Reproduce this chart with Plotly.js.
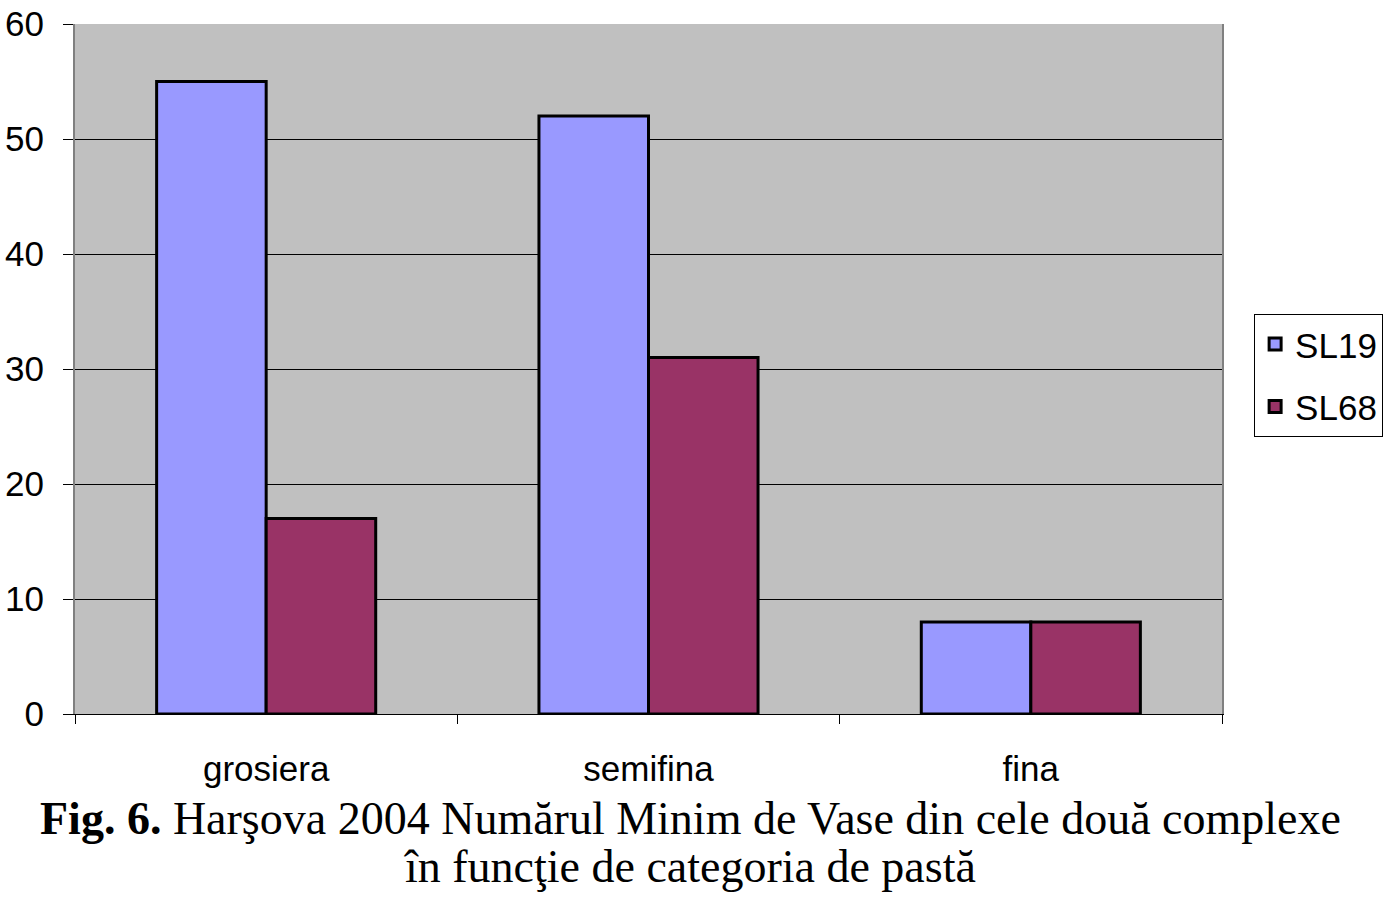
<!DOCTYPE html>
<html>
<head>
<meta charset="utf-8">
<script src="https://cdn.plot.ly/plotly-3.0.1.min.js"></script>
<style>html,body{margin:0;padding:0;background:#fff;}#chart{width:1398px;height:899px;}</style>
</head>
<body>
<div id="chart"></div>
<script>
const categories = ["grosiera", "semifina", "fina"];
const sl19 = [55, 52, 8];
const sl68 = [17, 31, 8];
const seriesNames = ["SL19", "SL68"];
const yTicks = [0, 10, 20, 30, 40, 50, 60];
const captionLine1 = "<b>Fig. 6.</b> Harşova 2004 Numărul Minim de Vase din cele două complexe";
const captionLine2 = "în funcţie de categoria de pastă";

const traces = [
  {type: "bar", name: seriesNames[0], x: categories, y: sl19, legendgroup: "a",
   marker: {color: "#9999FF", line: {color: "#000", width: 3}}},
  {type: "bar", name: seriesNames[1], x: categories, y: sl68, legendgroup: "b",
   marker: {color: "#993366", line: {color: "#000", width: 3}}}
];

const axisFont = {size: 35, family: "Liberation Sans, Arial, sans-serif", color: "#000"};
const captionFont = {family: "Liberation Serif, Times New Roman, serif", size: 46, color: "#000"};

const layout = {
  width: 1398, height: 899,
  margin: {l: 75, r: 176, t: 24, b: 185},
  paper_bgcolor: "#fff",
  plot_bgcolor: "#C0C0C0",
  barmode: "group",
  bargap: 0.427,
  bargroupgap: 0,
  font: {family: "Liberation Sans, Arial, sans-serif", color: "#000"},
  xaxis: {
    type: "category",
    tickson: "boundaries",
    ticks: "outside", ticklen: 9, tickcolor: "#000", tickwidth: 1,
    showline: true, linecolor: "#000", linewidth: 1,
    showgrid: false,
    tickfont: axisFont,
    ticklabelstandoff: 24
  },
  yaxis: {
    range: [0, 60],
    tickvals: yTicks,
    ticks: "outside", ticklen: 10, tickcolor: "#000", tickwidth: 1,
    showline: true, mirror: true, linecolor: "#808080", linewidth: 2,
    showgrid: true, gridcolor: "#000", gridwidth: 1,
    zeroline: true, zerolinecolor: "#000", zerolinewidth: 1,
    tickfont: axisFont,
    ticklabelstandoff: 12
  },
  legend: {
    x: 1.028, xanchor: "left", y: 0.58, yanchor: "top",
    bgcolor: "#fff", bordercolor: "#000", borderwidth: 1,
    font: axisFont,
    traceorder: "grouped",
    itemwidth: 30, tracegroupgap: 14
  },
  showlegend: true,
  annotations: [
    {xref: "paper", yref: "paper", x: 0.537, y: -0.151, xanchor: "center", yanchor: "middle",
     showarrow: false, text: captionLine1, font: captionFont},
    {xref: "paper", yref: "paper", x: 0.536, y: -0.221, xanchor: "center", yanchor: "middle",
     showarrow: false, text: captionLine2, font: captionFont}
  ]
};

Plotly.newPlot("chart", traces, layout, {displayModeBar: false, staticPlot: true});
</script>
</body>
</html>
